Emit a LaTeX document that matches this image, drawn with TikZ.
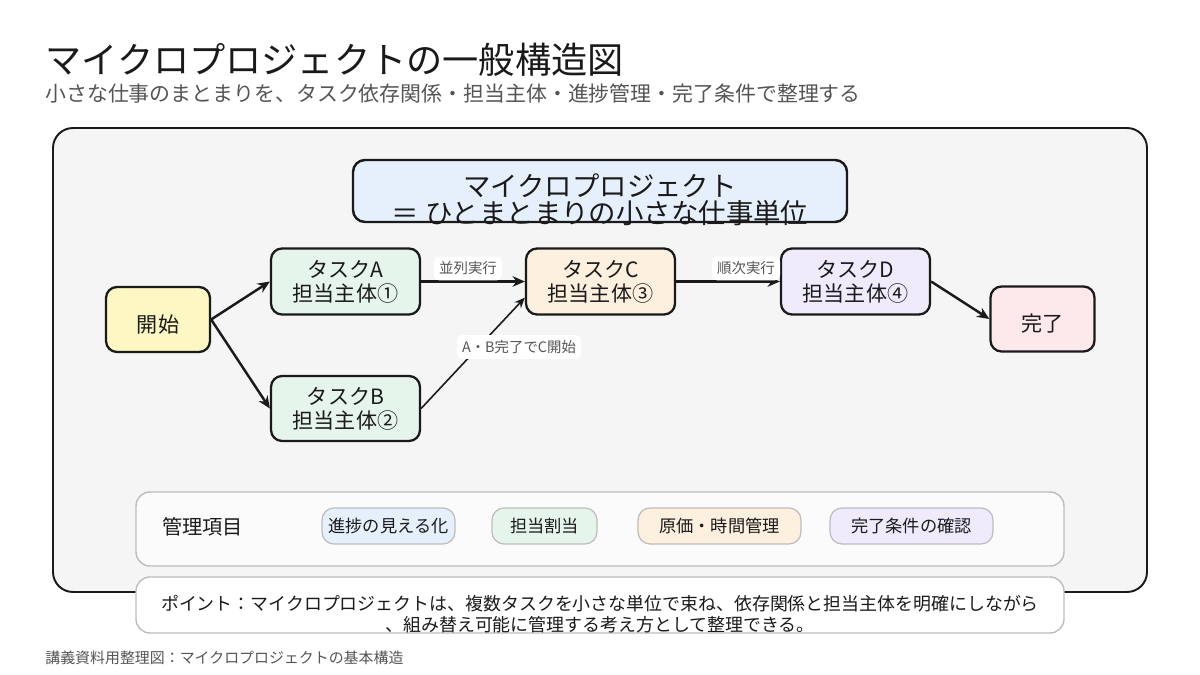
\documentclass[tikz,border=0pt]{standalone}
\usepackage{fontspec}
\setmainfont{Noto Sans CJK JP}
\usetikzlibrary{arrows.meta}
\definecolor{ink}{HTML}{1A1A1A}
\definecolor{sub}{HTML}{555555}
\definecolor{panel}{HTML}{F5F5F5}
\definecolor{fblue}{HTML}{E6F0FC}
\definecolor{fyellow}{HTML}{FDF7C3}
\definecolor{fgreen}{HTML}{E6F5EC}
\definecolor{forange}{HTML}{FDF0DE}
\definecolor{fpurple}{HTML}{EFEBFD}
\definecolor{fpink}{HTML}{FDE8EC}
\definecolor{softline}{HTML}{BDBDBD}
\tikzset{
  flowbox/.style={draw=ink, line width=1.3pt, rounded corners=0.22cm, align=center, inner sep=0pt,
    font=\fontsize{12}{13.6}\selectfont, text=ink},
  taskbox/.style={flowbox, minimum width=2.98cm, minimum height=1.32cm,
    execute at begin node={\rule{0pt}{16pt}}},
  endbox/.style={flowbox, minimum width=2.08cm, minimum height=1.3cm,
    execute at begin node={\rule{0pt}{15.5pt}}},
  flowarrow/.style={-{Stealth[length=7pt,width=6pt]}, line width=1.4pt, draw=ink},
  thinarrow/.style={-{Stealth[length=6pt,width=5pt]}, line width=0.9pt, draw=ink},
  edgelabel/.style={fill=white, rounded corners=0.12cm, text=sub, inner xsep=3pt, inner ysep=3pt,
    font=\fontsize{8.2}{9}\selectfont},
  chip/.style={draw=softline, line width=0.7pt, rounded corners=0.24cm, inner sep=0pt,
    minimum height=0.72cm, font=\fontsize{9.8}{11}\selectfont, text=ink},
}
\begin{document}
\begin{tikzpicture}[x=0.02cm, y=-0.02cm]
\useasboundingbox[fill=white] (0,0) rectangle (1200,675);

% title and subtitle
\node[anchor=base west, inner sep=0pt, text=ink, font=\fontsize{20.6}{22}\selectfont] (title) at (45,74) {マイクロプロジェクトの一般構造図};
\node[anchor=base west, inner sep=0pt, text=sub, font=\fontsize{11.9}{13}\selectfont] (subtitle) at (45,102) {小さな仕事のまとまりを、タスク依存関係・担当主体・進捗管理・完了条件で整理する};

% main panel
\draw[fill=panel, draw=ink, line width=1.1pt, rounded corners=0.4cm] (53,128) rectangle (1147,592);

% center heading box
\draw[fill=fblue, draw=ink, line width=1.4pt, rounded corners=0.24cm] (353,160) rectangle (847,222);
\node[inner sep=0pt, text=ink, font=\fontsize{15.6}{17}\selectfont] (head1) at (600,186) {マイクロプロジェクト};
\node[inner sep=0pt, text=ink, font=\fontsize{15.6}{17}\selectfont] (head2) at (600,213) {＝ ひとまとまりの小さな仕事単位};

% flow nodes
\node[endbox, fill=fyellow] (start) at (158,319.5) {開始};
\node[taskbox, fill=fgreen] (A) at (345.5,281.5) {タスクA\\担当主体①};
\node[taskbox, fill=fgreen, minimum height=1.3cm] (B) at (345.5,408.5) {タスクB\\担当主体②};
\node[taskbox, fill=forange] (C) at (600.5,281.5) {タスクC\\担当主体③};
\node[taskbox, fill=fpurple] (D) at (855.5,281.5) {タスクD\\担当主体④};
\node[endbox, fill=fpink] (done) at (1042.5,319) {完了};

% connectors
\draw[flowarrow] (start.east) -- (A.west);
\draw[flowarrow] (start.east) -- (B.west);
\draw[flowarrow] (A.east) -- (C.west);
\draw[thinarrow] (B.east) -- (C.192);
\draw[flowarrow] (C.east) -- (D.west);
\draw[flowarrow] (D.east) -- (done.west);

% edge labels
\node[edgelabel] (lab1) at (468,268.5) {並列実行};
\node[edgelabel] (lab2) at (746,268.5) {順次実行};
\node[edgelabel] (lab3) at (519,347) {A・B完了でC開始};

% management items
\draw[fill=white!60!panel, draw=softline, line width=0.8pt, rounded corners=0.28cm] (136,492) rectangle (1064,566);
\node[anchor=west, inner sep=0pt, text=ink, font=\fontsize{11.5}{13}\selectfont] (mgmt) at (162,527) {管理項目};
\node[chip, fill=fblue, minimum width=2.66cm] (m1) at (388.5,526) {進捗の見える化};
\node[chip, fill=fgreen, minimum width=2.1cm] (m2) at (544.5,526) {担当割当};
\node[chip, fill=forange, minimum width=3.26cm] (m3) at (719.5,526) {原価・時間管理};
\node[chip, fill=fpurple, minimum width=3.26cm] (m4) at (911.5,526) {完了条件の確認};

% point box
\draw[fill=white, draw=softline, line width=0.8pt, rounded corners=0.28cm] (136,577) rectangle (1064,633);
\node[inner sep=0pt, text=ink, font=\fontsize{10.2}{12}\selectfont] (pt1) at (600,604) {ポイント：マイクロプロジェクトは、複数タスクを小さな単位で束ね、依存関係と担当主体を明確にしながら};
\node[inner sep=0pt, text=ink, font=\fontsize{10.2}{12}\selectfont] (pt2) at (600,625) {、組み替え可能に管理する考え方として整理できる。};

% footer
\node[anchor=base west, inner sep=0pt, text=sub, font=\fontsize{8.5}{10}\selectfont] (footer) at (45,663) {講義資料用整理図：マイクロプロジェクトの基本構造};
\end{tikzpicture}
\end{document}
